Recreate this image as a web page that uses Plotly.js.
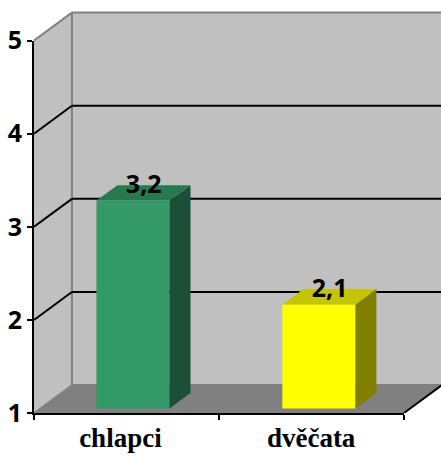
<!DOCTYPE html>
<html><head><meta charset="utf-8">
<script src="https://cdn.plot.ly/plotly-3.0.1.min.js"></script>
<style>html,body{margin:0;padding:0;background:#fff}#c{width:441px;height:457px}</style></head>
<body><div id="c"></div>
<script>
const categories = ['chlapci', 'dvěčata'];
const values = [3.2, 2.1];
const valueLabels = ['3,2', '2,1'];
const yTicks = [1, 2, 3, 4, 5];
const frontColors = ['#339966', '#FFFF00'];
const sideColors = ['#1C4F37', '#808000'];
const topColors = ['#287850', '#C4C400'];

// 3D look: depth of the box and of the bars, in axis units
const wallDx = 0.205, wallDy = 0.30;
const barDx = 0.1135, barDy = 0.166;
const barWidth = 0.395;
const barCenters = [0.035, 1.04];
const barBase = 1.048, barScale = 1.015;
const labelTickX = [-0.033, 0.998];
const xMin = -0.5, xMax = 1.5, yMin = 1, yMax = 5;
const xEnd = 1.7, yEnd = 5.317;

const poly = pts => 'M' + pts.map(p => p[0] + ',' + p[1]).join('L') + 'Z';
const line = (a, b, color, width) => ({type: 'line', xref: 'x', yref: 'y', layer: 'below',
  x0: a[0], y0: a[1], x1: b[0], y1: b[1], line: {color, width}});
const fill = (pts, color) => ({type: 'path', xref: 'x', yref: 'y', layer: 'below',
  path: poly(pts), fillcolor: color, line: {width: 0}});

const bx = xMin + wallDx, by = yMin + wallDy, ty = yMax + wallDy;
const shapes = [
  fill([[bx, by], [2, by], [2, ty], [bx, ty]], '#C0C0C0'),
  fill([[xMin, yMin], [bx, by], [bx, ty], [xMin, yMax]], '#C0C0C0'),
  fill([[xMin, yMin], [xMax, yMin], [xMax + wallDx, by], [bx, by]], '#808080'),
  line([xMin, yMax], [bx, ty], '#808080', 2),
  line([bx, ty], [2, ty], '#808080', 2),
  line([bx, by], [bx, ty], '#808080', 2),
  line([bx, by], [2, by], '#808080', 2),
  line([xMin, yMin], [bx, by], '#808080', 1.5),
  line([xMax, yMin], [xMax + wallDx, by], '#000000', 2)
];
[2, 3, 4].forEach(v => {
  shapes.push(line([xMin, v], [bx, v + wallDy], '#000000', 2));
  shapes.push(line([bx, v + wallDy], [2, v + wallDy], '#000000', 2));
});

const tops = values.map(v => barBase + (v - 1) * barScale);
const traces = [{
  type: 'bar', x: barCenters, y: values.map(v => (v - 1) * barScale), base: barBase,
  width: barWidth, marker: {color: frontColors, line: {width: 0}},
  hoverinfo: 'skip', showlegend: false
}];
values.forEach((v, i) => {
  const l = barCenters[i] - barWidth / 2, r = barCenters[i] + barWidth / 2, t = tops[i];
  traces.push({type: 'scatter', mode: 'lines', fill: 'toself', fillcolor: sideColors[i], line: {width: 0},
    x: [r, r + barDx, r + barDx, r, r], y: [barBase, barBase + barDy, t + barDy, t, barBase],
    hoverinfo: 'skip', showlegend: false});
  traces.push({type: 'scatter', mode: 'lines', fill: 'toself', fillcolor: topColors[i], line: {width: 0},
    x: [l, r, r + barDx, l + barDx, l], y: [t, t, t + barDy, t + barDy, t],
    hoverinfo: 'skip', showlegend: false});
});
// value labels
traces.push({type: 'scatter', mode: 'text', cliponaxis: false,
  x: barCenters.map(c => c + 0.058), y: tops.map(t => t + 0.148),
  text: valueLabels, textposition: 'middle center',
  textfont: {family: 'Noto Sans', size: 25, color: '#000', weight: 700},
  hoverinfo: 'skip', showlegend: false});
// invisible trace that brings up the front axes (second subplot)
traces.push({type: 'scatter', mode: 'lines', xaxis: 'x2', yaxis: 'y2', x: [xMin, xMax], y: [yMin, yMax],
  line: {width: 0}, hoverinfo: 'skip', showlegend: false});

const layout = {
  width: 441, height: 457, paper_bgcolor: '#fff', plot_bgcolor: 'rgba(0,0,0,0)',
  margin: {l: 34, r: 0, t: 11, b: 44}, showlegend: false, shapes,
  xaxis: {range: [xMin, xEnd], tickmode: 'array', tickvals: labelTickX, ticktext: categories,
    ticks: '', showgrid: false, zeroline: false, showline: false, ticklabelstandoff: 6,
    tickfont: {family: 'Liberation Serif', size: 27, color: '#000', weight: 700}},
  yaxis: {range: [yMin, yEnd], showticklabels: false, ticks: '', showgrid: false, zeroline: false, showline: false},
  xaxis2: {domain: [0, (xMax - xMin) / (xEnd - xMin)], range: [xMin, xMax], anchor: 'y2', tickmode: 'array',
    tickvals: [-0.5, 0.5, 1.5], showticklabels: false, ticks: 'outside', ticklen: 5, tickwidth: 2,
    tickcolor: '#000', showgrid: false, zeroline: false, showline: true, linecolor: '#000', linewidth: 2},
  yaxis2: {domain: [0, (yMax - yMin) / (yEnd - yMin)], range: [yMin, yMax], anchor: 'x2', tickmode: 'array',
    tickvals: yTicks, ticktext: yTicks.map(String),
    ticks: 'outside', ticklen: 5, tickwidth: 2, tickcolor: '#000', showgrid: false, zeroline: false,
    showline: true, linecolor: '#000', linewidth: 2,
    tickfont: {family: 'Noto Sans', size: 25, color: '#000', weight: 700}}
};
Plotly.newPlot('c', traces, layout, {displayModeBar: false, staticPlot: true});
</script></body></html>
